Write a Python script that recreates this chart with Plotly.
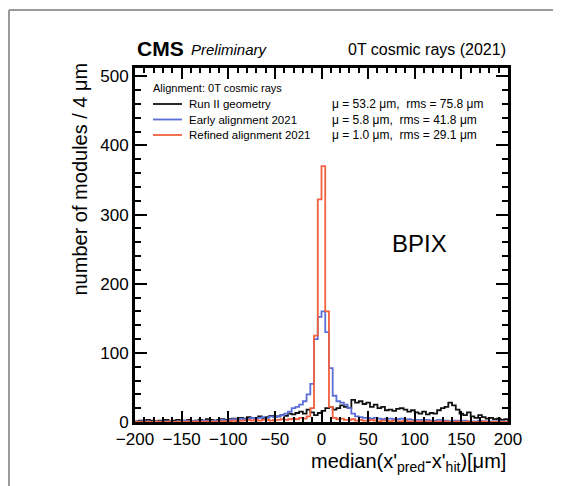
import plotly.graph_objects as go

# ---------------- data ----------------
bin_width = 4
x_min, x_max = -200, 200
edges = list(range(x_min, x_max + 1, bin_width))  # 101 edges, 100 bins

run2_geometry = (
    [1, 2, 1, 3, 2, 1, 2, 2, 3, 1, 2, 3, 2, 2, 3, 1, 2, 3, 2, 4, 3, 2, 3, 4, 3]
    + [4, 5, 3, 6, 5, 7, 6, 5, 8, 6, 7, 9, 8]
    + [8, 10, 9, 12, 11, 13, 15, 12, 18, 14, 10, 13]
    + [16, 20, 22, 18, 20, 24, 22, 20]
    + [32, 28, 30, 26, 28, 22, 25]
    + [20, 22, 17, 18, 16, 19, 20, 18, 15, 17]
    + [14, 12, 15, 11, 13, 12, 17]
    + [20, 22, 28, 24, 18]
    + [12, 10, 14, 8, 6, 10, 7, 5, 6, 4, 5, 3, 4]
)
early_2021 = (
    [0, 1, 0, 1, 0, 1, 1, 0, 1, 1, 0, 1, 1, 2, 1, 1, 2, 1, 2, 2, 1, 2, 2, 3, 2]
    + [3, 4, 3, 5, 4, 5, 6, 5, 6, 7, 6, 8, 7]
    + [8, 10, 12]
    + [15, 20, 22, 25, 30, 40, 55, 120, 152]
    + [160, 130, 78, 38, 30, 28, 25, 20, 12, 8]
    + [7, 6, 6, 5, 6, 5, 4, 5, 5, 4, 4, 5, 3, 4, 3]
    + [3, 3, 2, 3, 2, 2, 3, 2, 2, 1, 2, 2, 1, 2, 1, 1, 1, 2, 1, 1, 1, 0, 1, 1, 0]
)
refined_2021 = (
    [0, 0, 0, 0, 0, 1, 0, 0, 0, 1, 0, 0, 1, 0, 1, 0, 1, 1, 0, 1, 1, 0, 1, 1, 1]
    + [1, 2, 1, 2, 2, 3, 2, 3, 2, 3, 3, 2, 3]
    + [3, 4, 3, 4, 5, 4, 6]
    + [5, 8, 20, 125, 322]
    + [370, 160, 22, 6, 4]
    + [5, 3, 3, 4, 2, 3, 2, 2, 3, 2, 1, 2, 2, 1, 2, 1, 1, 2, 1, 1]
    + [1, 1, 0, 1, 1, 0, 1, 0, 1, 0, 0, 1, 0, 0, 1, 0, 0, 0, 1, 0, 0, 0, 0, 0, 0]
)

series_names = ["Run II geometry", "Early alignment 2021", "Refined alignment 2021"]
series_values = [run2_geometry, early_2021, refined_2021]
series_colors = ["#111111", "#5b6fd8", "#f2603f"]
series_stats = [
    "\u03bc = 53.2 \u03bcm,  rms = 75.8 \u03bcm",
    "\u03bc = 5.8 \u03bcm,  rms = 41.8 \u03bcm",
    "\u03bc = 1.0 \u03bcm,  rms = 29.1 \u03bcm",
]
legend_header = "Alignment: 0T cosmic rays"
x_ticks = [-200, -150, -100, -50, 0, 50, 100, 150, 200]
y_ticks = [0, 100, 200, 300, 400, 500]
y_max = 512

# ---------------- layout geometry (pixels) ----------------
W, H = 577, 486
L, R, T, B = 135, 508, 68, 422


def px(x):
    return (x - L) / (R - L)


def py(y):
    return (B - y) / (B - T)


FONT = "Liberation Sans, Arial, Helvetica, sans-serif"

fig = go.Figure()
for name, vals, col in zip(series_names, series_values, series_colors):
    xs = [edges[0]] + edges + [edges[-1]]
    ys = [0] + list(vals) + [vals[-1], 0]
    fig.add_trace(go.Scatter(
        x=xs, y=ys, mode="lines", name=name,
        line=dict(color=col, width=1.8, shape="hv"),
        hoverinfo="skip", showlegend=False,
    ))

axis_common = dict(
    showgrid=False, zeroline=False, showline=True, linecolor="black",
    linewidth=2.8, mirror="allticks", ticks="inside", tickcolor="black",
    tickwidth=1.5, tickfont=dict(family=FONT, size=17, color="black"),
)
fig.update_xaxes(
    range=[x_min, x_max], tickvals=x_ticks,
    ticktext=[("\u2212" + str(-v)) if v < 0 else str(v) for v in x_ticks],
    ticklen=11,
    minor=dict(dtick=10, ticklen=5, ticks="inside", tickcolor="black", tickwidth=1.5),
    **axis_common,
)
fig.update_yaxes(
    range=[0, y_max], tickvals=y_ticks, ticklen=12,
    minor=dict(dtick=20, ticklen=6, ticks="inside", tickcolor="black", tickwidth=1.5),
    **axis_common,
)

annotations = [
    dict(text="<b>CMS</b>", x=px(135), y=py(48), xanchor="left", yanchor="middle",
         font=dict(family=FONT, size=21, color="black")),
    dict(text="<i>Preliminary</i>", x=px(189), y=py(50), xanchor="left", yanchor="middle",
         font=dict(family=FONT, size=15, color="black")),
    dict(text="0T cosmic rays (2021)", x=px(508), y=py(49), xanchor="right", yanchor="middle",
         font=dict(family=FONT, size=16, color="black")),
    dict(text="BPIX", x=px(419), y=py(243), xanchor="center", yanchor="middle",
         font=dict(family=FONT, size=24, color="black")),
    dict(text="number of modules / 4 \u03bcm", x=px(80), y=py(61), xanchor="center", yanchor="top",
         textangle=-90, font=dict(family=FONT, size=20, color="black")),
    dict(text="median(x'<sub>pred</sub>-x'<sub>hit</sub>)[\u03bcm]", x=px(508), y=py(462),
         xanchor="right", yanchor="middle", font=dict(family=FONT, size=20, color="black")),
    dict(text=legend_header, x=px(151), y=py(88), xanchor="left", yanchor="middle",
         font=dict(family=FONT, size=11, color="black")),
]
legend_y = [104, 119.5, 135]
shapes = []
for i, (name, s, col) in enumerate(zip(series_names, series_stats, series_colors)):
    yy = legend_y[i]
    annotations.append(dict(text=name, x=px(187), y=py(yy), xanchor="left", yanchor="middle",
                            font=dict(family=FONT, size=11.5, color="black")))
    annotations.append(dict(text=s, x=px(330), y=py(yy), xanchor="left", yanchor="middle",
                            font=dict(family=FONT, size=12, color="black")))
    shapes.append(dict(type="line", xref="paper", yref="paper", x0=px(153), x1=px(182),
                       y0=py(yy), y1=py(yy), line=dict(color=col, width=1.8)))
for a in annotations:
    a.update(xref="paper", yref="paper", showarrow=False)

shapes += [
    dict(type="line", xref="paper", yref="paper", x0=px(9), x1=px(553), y0=py(10), y1=py(10),
         line=dict(color="#9a9a9a", width=2)),
    dict(type="line", xref="paper", yref="paper", x0=px(9), x1=px(9), y0=py(10), y1=py(486),
         line=dict(color="#9a9a9a", width=2)),
]

fig.update_layout(
    width=W, height=H,
    margin=dict(l=L, r=W - R, t=T, b=H - B, pad=0),
    paper_bgcolor="white", plot_bgcolor="white",
    annotations=annotations, shapes=shapes,
    showlegend=False,
)

fig.write_html("out.html")
